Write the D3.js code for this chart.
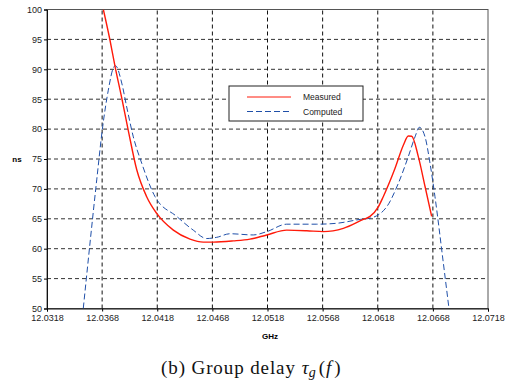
<!DOCTYPE html>
<html>
<head>
<meta charset="utf-8">
<script src="https://cdn.jsdelivr.net/npm/d3@7"></script>
<style>
  body { margin: 0; background: #fff; }
  svg { display: block; }
  .tick text { font-family: "Liberation Sans", Arial, sans-serif; font-size: 9px; fill: #222; }
</style>
</head>
<body>
<svg id="chart"></svg>
<script>
// x-axis ticks (GHz)
const xTicks = [12.0318, 12.0368, 12.0418, 12.0468, 12.0518, 12.0568, 12.0618, 12.0668, 12.0718]
const yTicks = [50, 55, 60, 65, 70, 75, 80, 85, 90, 95, 100]

// measured group delay
const measuredF = [12.03691, 12.03751, 12.03797, 12.03858, 12.03917, 12.03994, 12.04084, 12.04175,
  12.04326, 12.04477, 12.04598, 12.04689, 12.0487, 12.05021, 12.05173, 12.05354, 12.05536,
  12.05686, 12.05868, 12.06049, 12.0611, 12.06185, 12.0623, 12.06336, 12.06412, 12.06457,
  12.06488, 12.06548, 12.06609, 12.06669]
const measuredNs = [100, 94.9, 90.5, 85.2, 79.8, 73.2, 68.7, 65.9,
  63.1, 61.6, 61.1, 61.1, 61.3, 61.6, 62.3, 63.1, 63.0,
  62.85, 63.4, 64.9, 65.4, 67.0, 68.7, 73.4, 77.3, 78.85,
  78.8, 75.4, 70.4, 65.4]

// computed group delay
const computedF = [12.03509, 12.03631, 12.03685, 12.03736, 12.03781, 12.03801, 12.03858, 12.03903,
  12.03963, 12.04039, 12.0416, 12.04356, 12.04507, 12.04628, 12.04719, 12.0484, 12.05051,
  12.05173, 12.05354, 12.05627, 12.05808, 12.0602, 12.0611, 12.06261, 12.06366, 12.06457,
  12.06518, 12.06557, 12.06609, 12.06654, 12.06699, 12.06775, 12.06826]
const computedNs = [50, 71.5, 80.4, 86.5, 90.2, 90.6, 87.7, 83.7,
  78.7, 74.3, 68.7, 65.4, 63.1, 61.7, 61.9, 62.5, 62.3,
  62.85, 64.1, 64.1, 64.25, 64.9, 65.1, 67.0, 70.9, 75.4,
  78.7, 80.3, 78.7, 74.3, 68.7, 57.6, 50]

const width = 507, height = 383
const m = { left: 47, top: 9.5, right: 19, bottom: 74.5 }

const svg = d3.select('#chart').attr('width', width).attr('height', height)

const x = d3.scaleLinear().domain([12.0318, 12.0718]).range([m.left, width - m.right])
const y = d3.scaleLinear().domain([50, 100]).range([height - m.bottom, m.top])

// grid
svg.append('g')
  .selectAll('line')
  .data(yTicks.slice(1, -1))
  .join('line')
  .attr('x1', x.range()[0]).attr('x2', x.range()[1])
  .attr('y1', d => y(d)).attr('y2', d => y(d))
  .attr('stroke', '#333').attr('stroke-width', 1).attr('stroke-dasharray', '4,3')

svg.append('g')
  .selectAll('line')
  .data(xTicks.slice(1, -1))
  .join('line')
  .attr('y1', y.range()[0]).attr('y2', y.range()[1])
  .attr('x1', d => x(d)).attr('x2', d => x(d))
  .attr('stroke', '#111').attr('stroke-width', 1).attr('stroke-dasharray', '4,3')

// frame
svg.append('rect')
  .attr('x', x.range()[0]).attr('y', y.range()[1])
  .attr('width', x.range()[1] - x.range()[0])
  .attr('height', y.range()[0] - y.range()[1])
  .attr('fill', 'none').attr('stroke', '#555').attr('stroke-width', 1)

// axes
const xAxis = svg.append('g')
  .attr('transform', `translate(0,${y.range()[0]})`)
  .call(d3.axisBottom(x).tickValues(xTicks).tickFormat(d3.format('.4f')).tickSize(3).tickPadding(3))
xAxis.select('.domain').attr('stroke', '#111')

const yAxis = svg.append('g')
  .attr('transform', `translate(${x.range()[0]},0)`)
  .call(d3.axisLeft(y).tickValues(yTicks).tickSize(3).tickPadding(2))
yAxis.select('.domain').attr('stroke', '#111')

// axis titles
svg.append('text')
  .attr('x', 17).attr('y', y(75) + 3)
  .attr('text-anchor', 'middle')
  .style('font', 'bold 8px "Liberation Sans", Arial, sans-serif')
  .text('ns')

svg.append('text')
  .attr('x', 270).attr('y', 339)
  .attr('text-anchor', 'middle')
  .style('font', 'bold 8px "Liberation Sans", Arial, sans-serif')
  .text('GHz')

// lines
svg.append('clipPath').attr('id', 'plot')
  .append('rect')
  .attr('x', x.range()[0]).attr('y', y.range()[1])
  .attr('width', x.range()[1] - x.range()[0])
  .attr('height', y.range()[0] - y.range()[1])

const line = d3.line().x(d => x(d[0])).y(d => y(d[1])).curve(d3.curveMonotoneX)

svg.append('path')
  .datum(d3.zip(computedF, computedNs))
  .attr('clip-path', 'url(#plot)')
  .attr('d', line)
  .attr('fill', 'none')
  .attr('stroke', '#1f4fa8').attr('stroke-width', 1).attr('stroke-dasharray', '6,3')

svg.append('path')
  .datum(d3.zip(measuredF, measuredNs))
  .attr('clip-path', 'url(#plot)')
  .attr('d', line)
  .attr('fill', 'none')
  .attr('stroke', '#ff1a0a').attr('stroke-width', 1.4)

// legend
const lg = svg.append('g').attr('transform', 'translate(229,86)')
lg.append('rect').attr('width', 134).attr('height', 35)
  .attr('fill', '#fff').attr('stroke', '#222').attr('stroke-width', 1)
lg.append('line').attr('x1', 18).attr('x2', 62).attr('y1', 11).attr('y2', 11)
  .attr('stroke', '#ff1a0a').attr('stroke-width', 1)
lg.append('line').attr('x1', 18).attr('x2', 62).attr('y1', 25.5).attr('y2', 25.5)
  .attr('stroke', '#1f4fa8').attr('stroke-width', 1).attr('stroke-dasharray', '6,3')
lg.selectAll('text')
  .data(['Measured', 'Computed'])
  .join('text')
  .attr('x', 74).attr('y', (d, i) => 14 + i * 14.5)
  .style('font', '8.5px "Liberation Sans", Arial, sans-serif')
  .attr('fill', '#222')
  .text(d => d)

// caption
const cap = svg.append('text')
  .attr('x', 161).attr('y', 374)
  .style('font-family', '"Liberation Serif", "Times New Roman", serif')
  .style('font-size', '19px')
  .attr('fill', '#111')
cap.append('tspan').style('letter-spacing', '0.9px').text('(b) Group delay')
cap.append('tspan').attr('dx', 6).style('font-style', 'italic').text('τ')
cap.append('tspan').style('font-style', 'italic').attr('font-size', '14px').attr('dy', 3).text('g')
cap.append('tspan').attr('dy', -3).attr('dx', 3).text('(')
cap.append('tspan').attr('dx', 1).style('font-style', 'italic').text('f')
cap.append('tspan').attr('dx', 3).text(')')
</script>
</body>
</html>
